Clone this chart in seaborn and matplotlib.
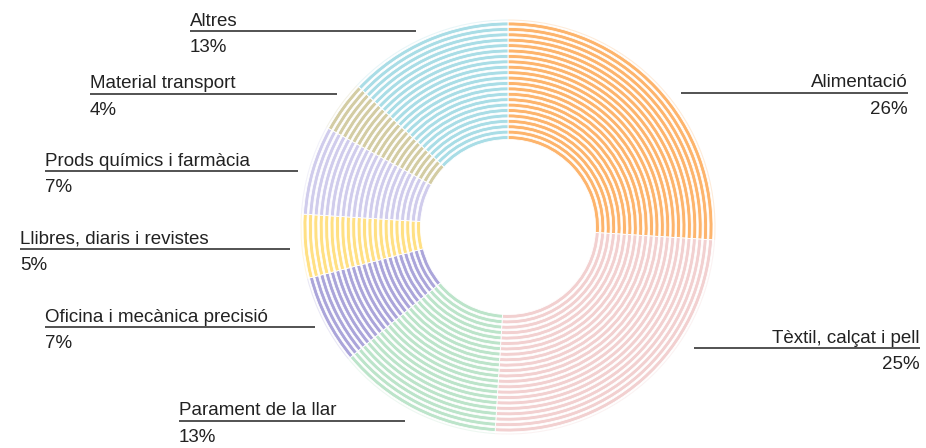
import numpy as np
import matplotlib
matplotlib.use("Agg")
import matplotlib.pyplot as plt
import seaborn as sns

categories = ["Alimentació", "Tèxtil, calçat i pell", "Parament de la llar",
              "Oficina i mecànica precisió", "Llibres, diaris i revistes",
              "Prods químics i farmàcia", "Material transport", "Altres"]
values = [26, 25, 13, 7, 5, 7, 4, 13]
pct_labels = ["26%", "25%", "13%", "7%", "5%", "7%", "4%", "13%"]
colors = ["#FDB46C", "#F2D0D0", "#BCE4CA", "#ABA5DA", "#FFE083",
          "#D0CCEC", "#D3CCA3", "#A9DDE6"]

sns.set_theme(style="white")
plt.rcParams['font.family'] = ['Liberation Sans', 'DejaVu Sans']

W, H = 926, 448
fig = plt.figure(figsize=(W / 100, H / 100), dpi=100)
ax = fig.add_axes([0, 0, 1, 1])

cx, cy = 508, H - 227
R_out, R_in = 205, 86
n_rings = 22
step = (R_out - R_in) / n_rings
band = step * 0.72

# faint outer ring
ax.pie(values, radius=R_out + 2.5, center=(cx, cy), startangle=90, counterclock=False,
       colors=colors, wedgeprops=dict(width=1.0, edgecolor="white", linewidth=0.6, alpha=0.4),
       frame=True)
for i in range(n_rings):
    r = R_out - i * step
    ax.pie(values, radius=r, center=(cx, cy), startangle=90, counterclock=False,
           colors=colors, wedgeprops=dict(width=band, edgecolor="white", linewidth=0.6),
           frame=True)

ax.set_xlim(0, W)
ax.set_ylim(0, H)
ax.set_aspect("equal")
ax.axis("off")

txt_col = "#222222"
line_col = "#444444"
fs = 13.5

# label layout: (text x, baseline y (from top), line y, line x0, line x1, align)
layout = [
    (908, 87, 93, 681, 908, "right"),
    (920, 343, 348, 694, 920, "right"),
    (179, 415, 421, 179, 405, "left"),
    (45, 322, 327, 45, 315, "left"),
    (20, 243, 249, 20, 290, "left"),
    (45, 166, 171, 45, 298, "left"),
    (90, 88, 94, 90, 337, "left"),
    (190, 26, 31, 190, 416, "left"),
]
for cat, pct, (tx, by, ly, x0, x1, ha) in zip(categories, pct_labels, layout):
    ax.text(tx, H - by, cat, ha=ha, va="baseline", fontsize=fs, color=txt_col)
    ax.plot([x0, x1], [H - ly, H - ly], color=line_col, lw=1.3, solid_capstyle="butt")
    ax.text(tx, H - (ly + 21), pct, ha=ha, va="baseline", fontsize=fs, color=txt_col)

fig.savefig("out.png", dpi=100, facecolor="white")
